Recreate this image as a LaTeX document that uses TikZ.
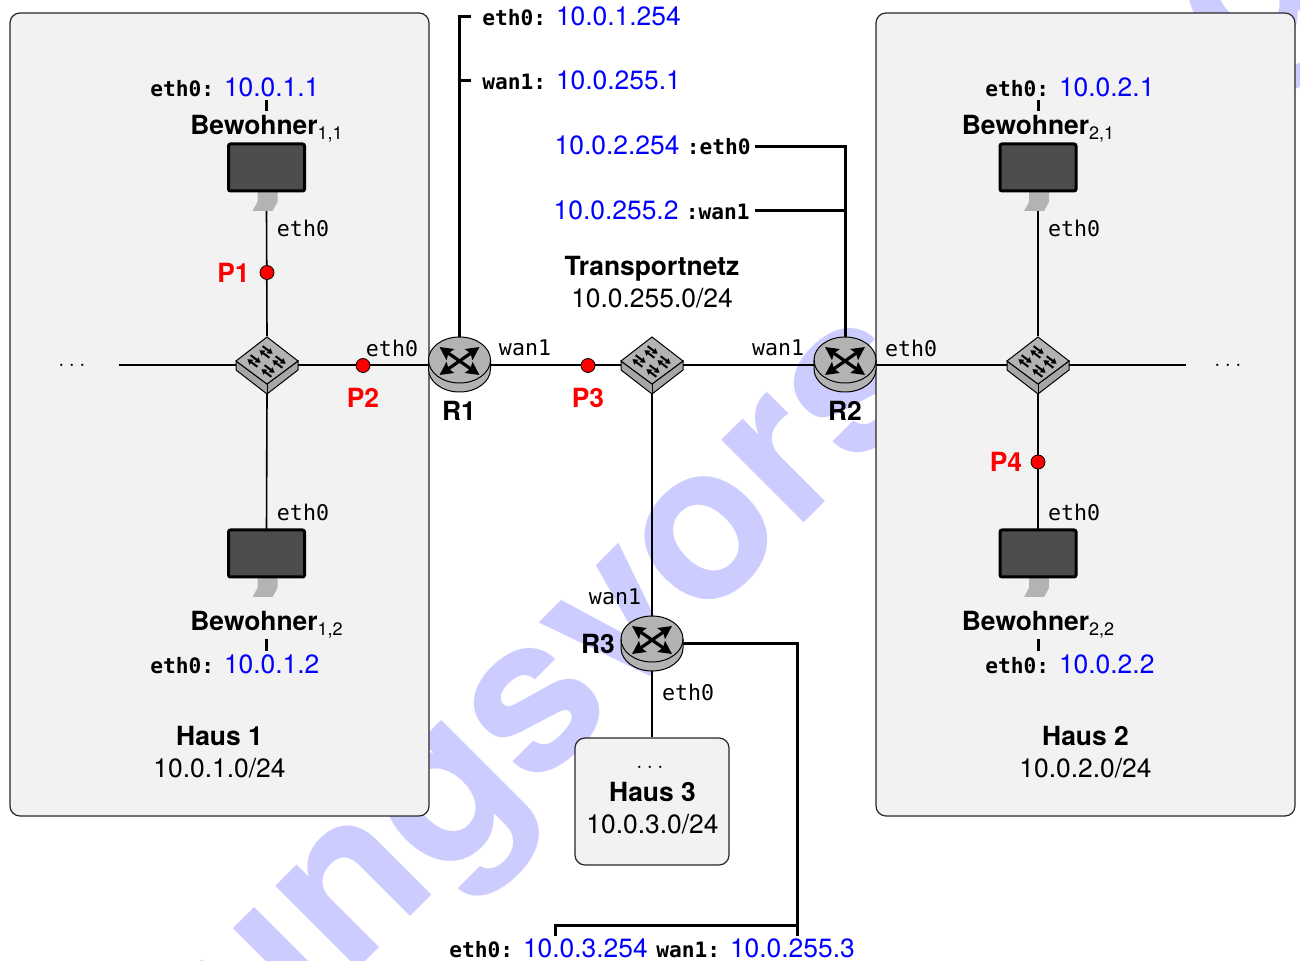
\documentclass[tikz,border=0pt]{standalone}
\usepackage{fontspec}
\setmainfont{TeX Gyre Heros}
\setmonofont{DejaVu Sans Mono}
\usepackage{xcolor}
\usetikzlibrary{arrows.meta, positioning, shapes.geometric, calc}
\definecolor{boxgray}{HTML}{F2F2F2}
\definecolor{iconfill}{HTML}{B3B3B3}
\definecolor{iconside}{HTML}{A6A6A6}
\definecolor{screenfill}{HTML}{4D4D4D}
\definecolor{wmcolor}{HTML}{CCCCFF}
\definecolor{ipblue}{HTML}{0000FF}
\definecolor{pointred}{HTML}{FF0000}
\newcommand{\ifc}[1]{{\ttfamily\bfseries\fontsize{10.6}{13}\selectfont #1}}
\newcommand{\ipa}[1]{{\color{ipblue}#1}}
\newcommand{\occ}[1]{\textbf{Bewohner}\raisebox{-2.5pt}{\fontsize{9}{9}\selectfont #1}}
\tikzset{
    pics/routericon/.style={code={
        \draw[fill=iconfill, line width=0.5pt] (-31,-5) -- (-31,4) arc[start angle=180, end angle=0, x radius=31, y radius=23]
            -- (31,-5) arc[start angle=0, end angle=-180, x radius=31, y radius=23] -- cycle;
        \draw[line width=0.5pt] (-31,-5) arc[start angle=180, end angle=0, x radius=31, y radius=23];
        \foreach \dx/\dy in {1/1, 1/-1, -1/1, -1/-1}
            \draw[-{Stealth[length=6.5pt, width=6.5pt, inset=1pt]}, line width=1.6pt] (0,-4) -- ({\dx*20},{-4+\dy*14});
    }},
    pics/switchicon/.style={code={
        \draw[fill=iconside, line width=0.5pt] (-31,-4) -- (-31,5) -- (0,29) -- (31,5) -- (31,-4) -- (0,19) -- cycle;
        \draw[line width=0.5pt] (0,19) -- (0,29);
        \draw[fill=iconfill, line width=0.5pt] (-31,-4) -- (0,-28) -- (31,-4) -- (0,19) -- cycle;
        \foreach \gx/\gy in {-1/-13, -13/-4, 12/-3, 1/6} {
            \draw[-{Stealth[length=2.5pt, width=3pt, inset=0pt]}, line width=1pt] ({\gx-5+1.6},{\gy-3.8-2}) -- ({\gx+5+1.6},{\gy+3.8-2});
            \draw[-{Stealth[length=2.5pt, width=3pt, inset=0pt]}, line width=1pt] ({\gx+5-1.6},{\gy+3.8+2}) -- ({\gx-5-1.6},{\gy-3.8+2});
        }
    }},
    pics/hosticon/.style={code={
        \draw[fill=iconfill, draw=none] (-9,24) -- (11,24) -- (11,35) -- (6,44) -- (-14,44) -- (-9,35) -- cycle;
        \draw[fill=screenfill, line width=1.5pt, rounded corners=1pt] (-38,-23) rectangle (38,24);
    }},
}
\begin{document}
\begin{tikzpicture}[
    x=0.5pt, y=-0.5pt,
    housebox/.style={rectangle, draw=black!85, fill=boxgray, rounded corners=5pt, line width=0.6pt},
    ghost/.style={rectangle, inner sep=0pt, minimum width=#1},
    routernode/.style={ghost=31pt, minimum height=27pt},
    switchnode/.style={ghost=31pt, minimum height=28.5pt},
    hostnode/.style={ghost=38pt, minimum height=23.5pt},
    txt/.style={font=\fontsize{13.2}{16}\selectfont, align=center, inner sep=0pt},
    ifname/.style={font=\ttfamily\fontsize{10.8}{13}\selectfont, inner sep=0pt},
    ptlabel/.style={font=\fontsize{13.2}{16}\selectfont\bfseries, text=pointred, inner sep=0pt},
    ptdot/.style={circle, draw=black, fill=pointred, line width=0.4pt, inner sep=0pt, minimum size=7pt},
    link/.style={line width=0.8pt},
    mgmt/.style={line width=1.5pt},
]
    \useasboundingbox (0,0) rectangle (1300,961);

    % watermark
    \begin{scope}
        \clip (0,0) rectangle (1300,961);
        \node[rotate=45, anchor=base, text=wmcolor, inner sep=0pt, font=\bfseries\fontsize{108}{108}\selectfont] (wm) at (661,666) {Lösungsvorschlag};
    \end{scope}

    % houses
    \node[housebox, minimum width=209.5pt, minimum height=401.5pt] (hausa) at (219.5,414.5) {};
    \node[housebox, minimum width=209.5pt, minimum height=401.5pt] (hausb) at (1085.5,414.5) {};
    \node[housebox, minimum width=77pt, minimum height=63.5pt] (hausc) at (652,801.5) {};

    % active parts
    \node[routernode] (ra) at (459.5,365) {};
    \node[routernode] (rb) at (845,365) {};
    \node[routernode] (rc) at (652,644) {};
    \node[switchnode] (sa) at (267,365) {};
    \node[switchnode] (sb) at (652,365) {};
    \node[switchnode] (sc) at (1038,365) {};
    \node[hostnode] (haa) at (266.5,167) {};
    \node[hostnode] (hab) at (266.5,553) {};
    \node[hostnode] (hba) at (1038,167) {};
    \node[hostnode] (hbb) at (1038,553) {};

    % free ends
    \coordinate (la) at (119,365);
    \coordinate (lb) at (1186,365);
    \coordinate (raea) at (471,17);
    \coordinate (rawa) at (471,81);
    \coordinate (rbea) at (755,147);
    \coordinate (rbwa) at (755,211);

    % links
    \draw[link] (la) -- (sa);
    \draw[link] (sa) -- (ra);
    \draw[link] (ra) -- (sb);
    \draw[link] (sb) -- (rb);
    \draw[link] (rb) -- (sc);
    \draw[link] (sc) -- (lb);
    \draw[link] (sa.north) -- ($(haa.south)+(0,20)$);
    \draw[link] (sa.south) -- (hab.south |- 0,530);
    \draw[link] (sc.north) -- ($(hba.south)+(0,20)$);
    \draw[link] (sc.south) -- (hbb.south |- 0,530);
    \draw[link] (sb.south) -- (rc.north);
    \draw[link] (rc.south) -- (hausc.north);

    % addresses
    \node[txt, anchor=west] (aaa) at (150,87) {\ifc{eth0:} \ipa{10.0.1.1}};
    \node[txt, anchor=west] (aab) at (150,664) {\ifc{eth0:} \ipa{10.0.1.2}};
    \node[txt, anchor=west] (aba) at (985,87) {\ifc{eth0:} \ipa{10.0.2.1}};
    \node[txt, anchor=west] (abb) at (985,664) {\ifc{eth0:} \ipa{10.0.2.2}};
    \node[txt, anchor=west] (rae) at (482,16) {\ifc{eth0:} \ipa{10.0.1.254}};
    \node[txt, anchor=west] (raw) at (482,80) {\ifc{wan1:} \ipa{10.0.255.1}};
    \node[txt, anchor=east] (rbe) at (751,145) {\ipa{10.0.2.254} \ifc{:eth0}};
    \node[txt, anchor=east] (rbw) at (750,210) {\ipa{10.0.255.2} \ifc{:wan1}};
    \node[txt, anchor=west] (rce) at (449,948) {\ifc{eth0:} \ipa{10.0.3.254}};
    \node[txt, anchor=west] (rcw) at (656,948) {\ifc{wan1:} \ipa{10.0.255.3}};

    % host names
    \node[txt, anchor=west] (naa) at (190,129) {\occ{1,1}};
    \node[txt, anchor=west] (nab) at (190,625) {\occ{1,2}};
    \node[txt, anchor=west] (nba) at (961.5,129) {\occ{2,1}};
    \node[txt, anchor=west] (nbb) at (961.5,625) {\occ{2,2}};

    % management lines
    \draw[mgmt] (haa.north |- 0,100) -- (haa.north |- 0,111);
    \draw[mgmt] (hab.north |- 0,639) -- (hab.north |- 0,651);
    \draw[mgmt] (hba.north |- 0,100) -- (hba.north |- 0,111);
    \draw[mgmt] (hbb.north |- 0,639) -- (hbb.north |- 0,651);
    \draw[mgmt] (ra.north) -- (ra.north |- raea) -- (raea);
    \draw[mgmt] (ra.north |- rawa) -- (rawa);
    \draw[mgmt] (rb.north) -- (rb.north |- rbea) -- (rbea);
    \draw[mgmt] (rb.north |- rbwa) -- (rbwa);
    \draw[mgmt] (rc.east) -- (797,644) -- (797,936);
    \draw[mgmt] (797,925) -- (555,925) -- (555,936);

    % icons
    \foreach \n in {ra, rb, rc} \pic at (\n) {routericon};
    \foreach \n in {sa, sb, sc} \pic at (\n) {switchicon};
    \foreach \n in {haa, hab, hba, hbb} \pic at (\n) {hosticon};

    % port names
    \node[ifname] (pa) at (303,228) {eth0};
    \node[ifname] (pb) at (303,512) {eth0};
    \node[ifname] (pc) at (1074,228) {eth0};
    \node[ifname] (pd) at (1074,512) {eth0};
    \node[ifname] (pe) at (392,348) {eth0};
    \node[ifname] (pf) at (525,348) {wan1};
    \node[ifname] (pg) at (778,348) {wan1};
    \node[ifname] (ph) at (911,348) {eth0};
    \node[ifname] (pi) at (615,597) {wan1};
    \node[ifname] (pj) at (688,692) {eth0};

    % routers
    \node[txt, font=\fontsize{13.2}{16}\selectfont\bfseries] (nra) at (459,411) {R1};
    \node[txt, font=\fontsize{13.2}{16}\selectfont\bfseries] (nrb) at (845,411) {R2};
    \node[txt, font=\fontsize{13.2}{16}\selectfont\bfseries] (nrc) at (598,644) {R3};

    % nets
    \node[txt] (tn) at (652,282) {\textbf{Transportnetz}\\10.0.255.0/24};
    \node[txt] (ta) at (219.5,752) {\textbf{Haus 1}\\10.0.1.0/24};
    \node[txt] (tb) at (1085.5,752) {\textbf{Haus 2}\\10.0.2.0/24};
    \node[txt] (tc) at (652.5,808) {\textbf{Haus 3}\\10.0.3.0/24};
    \node[txt] (dc) at (650,767) {$\dots$};
    \node[txt] (da) at (72,365) {$\dots$};
    \node[txt] (db) at (1228,365) {$\dots$};

    % measuring points
    \node[ptdot] (pone) at (267,272.5) {};
    \node[ptdot] (ptwo) at (363,365.5) {};
    \node[ptdot] (pthree) at (588,365.5) {};
    \node[ptdot] (pfour) at (1038,462) {};
    \node[ptlabel] at (233.5,272.5) {P1};
    \node[ptlabel] at (363,398) {P2};
    \node[ptlabel] at (588,398) {P3};
    \node[ptlabel] at (1006,462) {P4};
\end{tikzpicture}
\end{document}
